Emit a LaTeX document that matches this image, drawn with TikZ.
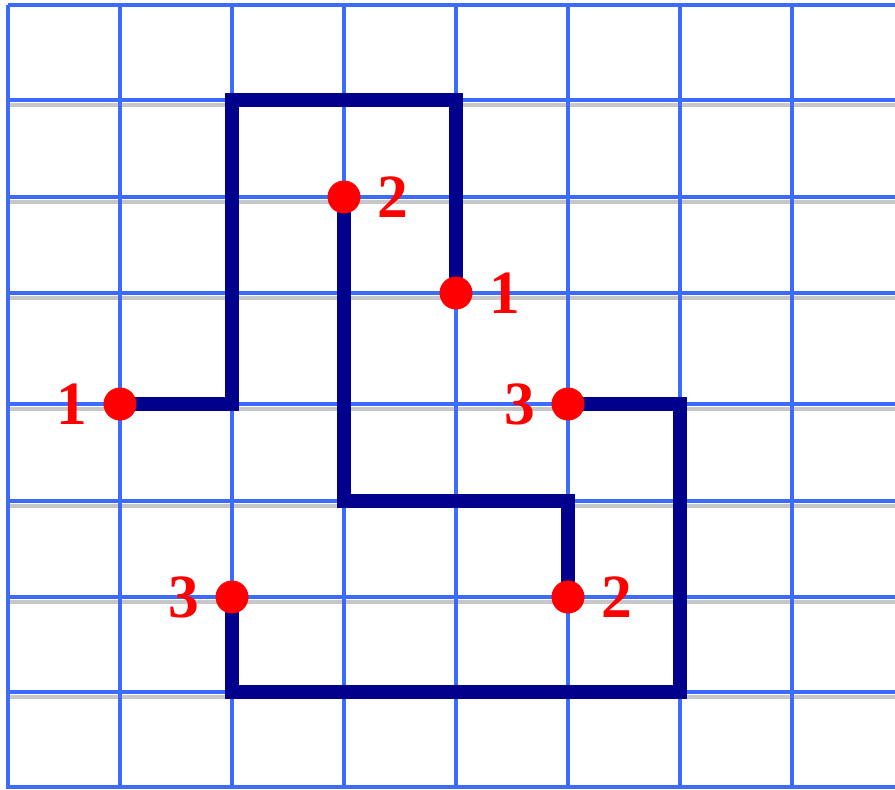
\documentclass[tikz,border=0pt]{standalone}
\usepackage{fontspec}
\newfontfamily\numfont{Liberation Serif}
\usetikzlibrary{positioning}
\definecolor{gridblue}{RGB}{61,107,255}
\definecolor{routenavy}{RGB}{0,0,140}
\definecolor{dotred}{RGB}{255,0,0}

\begin{document}
\begin{tikzpicture}[
        x=0.02cm, y=-0.02cm,
        gridline/.style={gridblue, line width=0.08cm},
        gridshade/.style={black!22, line width=0.09cm},
        route/.style={routenavy, line width=0.29cm, line join=miter},
        routeshade/.style={black!30, line width=0.29cm, line join=miter},
        dot/.style={circle, fill=dotred, minimum size=0.66cm, inner sep=0pt},
        num/.style={text=dotred, inner sep=0pt, font=\numfont\bfseries\fontsize{35}{35}\selectfont}
      ]
        \useasboundingbox (0,0) rectangle (895,789);
        \fill[white] (0,0) rectangle (895,789);

        % grid
        \foreach \y in {100,197,293,404,501,597,692,787} {
          \draw[gridshade] (8,\y+5) -- (895,\y+5);
        }
        \foreach \y in {5,100,197,293,404,501,597,692,787} {
          \draw[gridline] (8,\y) -- (895,\y);
        }
        \foreach \x in {8,120,232,344,456,568,680,792} {
          \draw[gridline] (\x,5) -- (\x,789);
        }

        % end points and corners
        \coordinate (a1) at (120,404);
        \coordinate (a2) at (456,293);
        \coordinate (b1) at (344,197);
        \coordinate (b2) at (568,597);
        \coordinate (c1) at (568,404);
        \coordinate (c2) at (232,597);
        \coordinate (ka) at (232,404);
        \coordinate (kb) at (232,100);
        \coordinate (kc) at (456,100);
        \coordinate (kd) at (344,501);
        \coordinate (ke) at (568,501);
        \coordinate (kf) at (680,404);
        \coordinate (kg) at (680,692);
        \coordinate (kh) at (232,692);

        \begin{scope}[shift={(3,4)}]
          \draw[routeshade] (a1) -- (ka) -- (kb) -- (kc) -- (a2);
          \draw[routeshade] (b1) -- (kd) -- (ke) -- (b2);
          \draw[routeshade] (c1) -- (kf) -- (kg) -- (kh) -- (c2);
        \end{scope}
        \draw[route] (a1) -- (ka) -- (kb) -- (kc) -- (a2);
        \draw[route] (b1) -- (kd) -- (ke) -- (b2);
        \draw[route] (c1) -- (kf) -- (kg) -- (kh) -- (c2);

        % numbered ends
        \node[dot] (d1) at (a1) {};
        \node[dot] (d2) at (a2) {};
        \node[dot] (d3) at (b1) {};
        \node[dot] (d4) at (b2) {};
        \node[dot] (d5) at (c1) {};
        \node[dot] (d6) at (c2) {};

        \node[num, left=0.32cm of d1] (n1) {1};
        \node[num, right=0.32cm of d2] (n2) {1};
        \node[num, right=0.32cm of d3] (n3) {2};
        \node[num, right=0.32cm of d4] (n4) {2};
        \node[num, left=0.32cm of d5] (n5) {3};
        \node[num, left=0.32cm of d6] (n6) {3};
      \end{tikzpicture}
\end{document}
